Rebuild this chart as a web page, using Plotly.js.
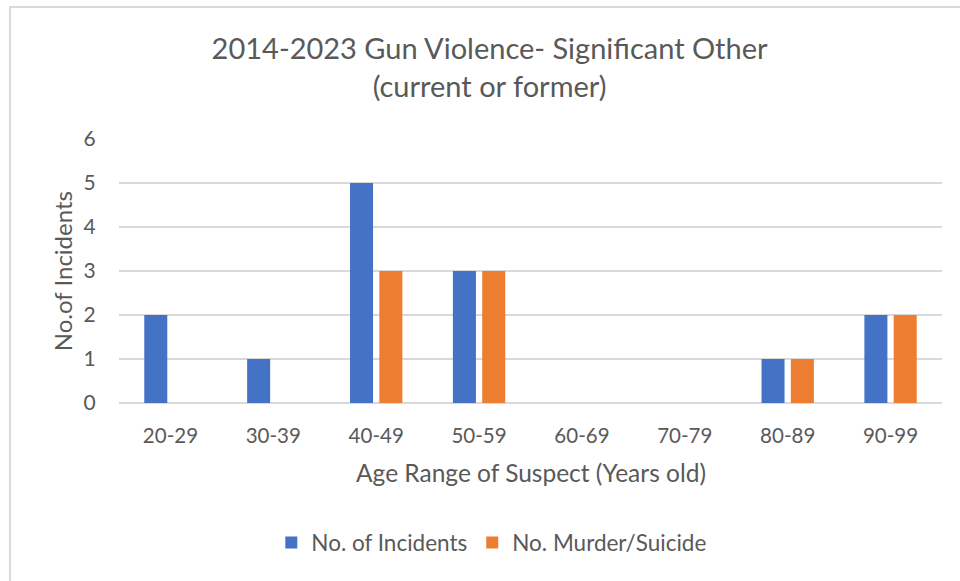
<!DOCTYPE html>
<html>
<head>
<meta charset="utf-8">
<script src="https://cdn.plot.ly/plotly-3.0.1.min.js"></script>
<style>
  html, body { margin: 0; padding: 0; background: #ffffff; }
  #wrap { position: relative; width: 960px; height: 581px; overflow: hidden; }
  #chart { position: absolute; left: 0; top: 0; width: 960px; height: 581px; }
  #frame { position: absolute; left: 9px; top: 6px; width: 1000px; height: 700px;
           border-left: 2px solid #d9d9d9; border-top: 2px solid #d9d9d9; pointer-events: none; }
</style>
</head>
<body>
<div id="wrap">
  <div id="chart"></div>
  <div id="frame"></div>
</div>
<script>
// Age brackets of the suspect
const ageRanges = ['20-29', '30-39', '40-49', '50-59', '60-69', '70-79', '80-89', '90-99'];
// Counts per bracket
const incidents = [2, 1, 5, 3, 0, 0, 1, 2];
const murderSuicide = [0, 0, 3, 3, 0, 0, 1, 2];
const yTicks = [0, 1, 2, 3, 4, 5, 6];

const FONT = 'Lato, "Open Sans", sans-serif';
const TEXT = '#595959';
const GRID = '#d9d9d9';

const traces = [
  {
    type: 'bar', name: 'No. of Incidents', x: ageRanges, y: incidents,
    marker: { color: '#4472C4', line: { width: 0 } }
  },
  {
    type: 'bar', name: 'No. Murder/Suicide', x: ageRanges, y: murderSuicide,
    marker: { color: '#ED7D31', line: { width: 0 } }
  }
];

const layout = {
  width: 960, height: 581,
  paper_bgcolor: '#ffffff', plot_bgcolor: '#ffffff',
  margin: { l: 119, r: 18, t: 139, b: 178 },
  font: { family: FONT, color: TEXT },
  barmode: 'group', bargap: 0.43, bargroupgap: 0.215,
  showlegend: true,
  title: {
    text: '2014-2023 Gun Violence- Significant Other<br>(current or former)',
    font: { family: FONT, size: 29, color: TEXT },
    x: 0.51, xref: 'container', xanchor: 'center',
    y: 0.898, yref: 'container', yanchor: 'middle'
  },
  xaxis: {
    type: 'category', showgrid: false, zeroline: false, showline: false,
    ticks: 'outside', ticklen: 14, tickcolor: 'rgba(0,0,0,0)',
    tickfont: { family: FONT, size: 20.5, color: TEXT }
  },
  yaxis: {
    range: [0, 6], tickvals: yTicks, showgrid: true, gridcolor: GRID, gridwidth: 1.5,
    zeroline: true, zerolinecolor: GRID, zerolinewidth: 1.5, showline: false,
    ticks: 'outside', ticklen: 18, tickcolor: 'rgba(0,0,0,0)',
    tickfont: { family: FONT, size: 21, color: TEXT }
  },
  legend: {
    orientation: 'h', x: 0.453, xanchor: 'center', y: -0.53, yanchor: 'middle',
    font: { family: FONT, size: 22.5, color: TEXT }, itemwidth: 30
  },
  annotations: [
    {
      text: 'Age Range of Suspect (Years old)', xref: 'paper', yref: 'paper',
      x: 0.5, y: -0.265, xanchor: 'center', yanchor: 'middle', showarrow: false,
      font: { family: FONT, size: 24.5, color: TEXT }
    },
    {
      text: 'No.of Incidents', xref: 'paper', yref: 'paper', textangle: -90,
      x: -0.069, y: 0.5, xanchor: 'center', yanchor: 'middle', showarrow: false,
      font: { family: FONT, size: 24, color: TEXT }
    }
  ]
};

Plotly.newPlot('chart', traces, layout, { displayModeBar: false, staticPlot: true });
</script>
</body>
</html>
